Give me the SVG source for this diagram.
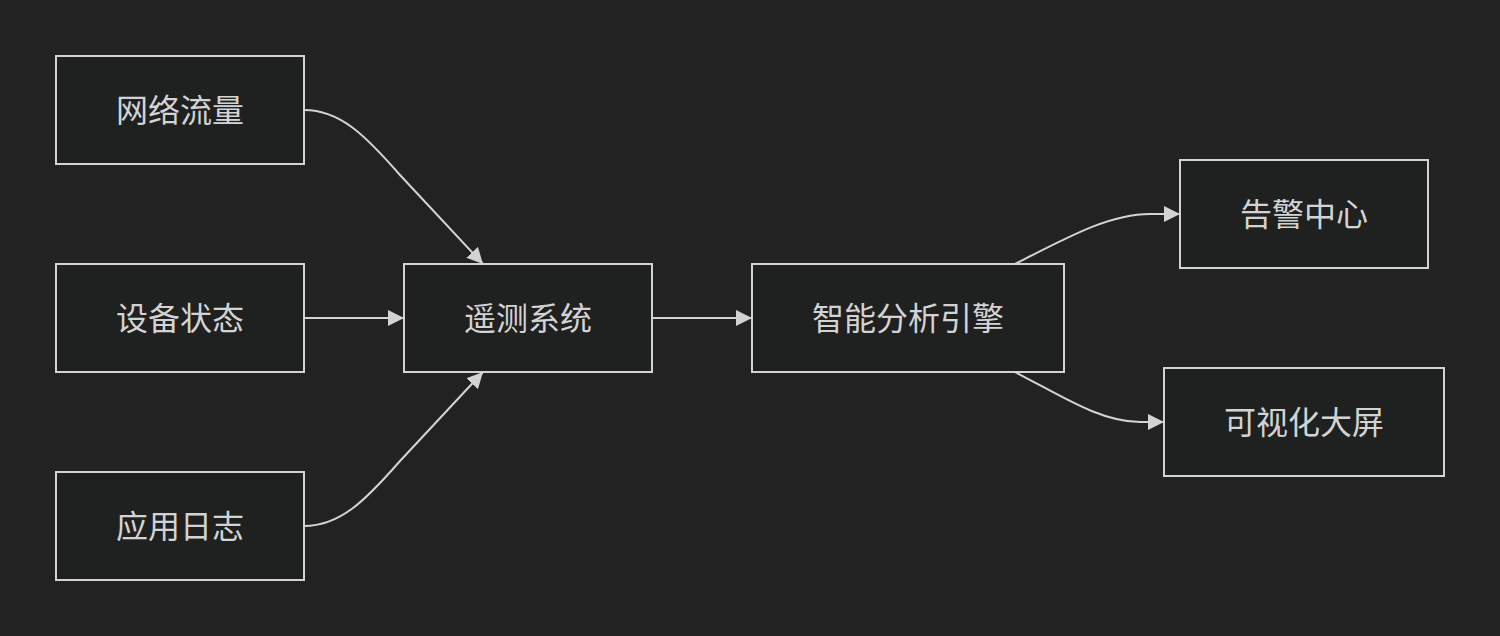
<svg xmlns="http://www.w3.org/2000/svg" width="1500" height="636" viewBox="0 0 1500 636">
<defs>
<style>
.node rect{fill:#1f2020;stroke:#d3d3d3;stroke-width:2}
.node text{fill:#d3d3d3;font-family:"Noto Sans CJK SC","Noto Sans",sans-serif;font-size:32px;text-anchor:middle;dominant-baseline:central}
.edge{fill:none;stroke:#d3d3d3;stroke-width:2;marker-end:url(#arr)}
</style>
<marker id="arr" viewBox="0 0 10 10" refX="10" refY="5" markerWidth="16" markerHeight="16" markerUnits="userSpaceOnUse" orient="auto">
<path d="M0,0 L10,5 L0,10 z" fill="#d3d3d3"/>
</marker>
</defs>
<rect width="1500" height="636" fill="#222222"/>
<g id="connectors">
<path class="edge" d="M304,110 C340,110 365,135 400,175 L483,264"/>
<path class="edge" d="M304,318 L404,318"/>
<path class="edge" d="M304,526 C340,526 365,501 400,461 L483,372"/>
<path class="edge" d="M652,318 L752,318"/>
<path class="edge" d="M1015,264 C1070,236 1110,214 1150,214 L1180,214"/>
<path class="edge" d="M1015,372 C1060,395 1100,422 1140,422 L1164,422"/>
</g>
<g id="n1" class="node"><rect x="56" y="56" width="248" height="108"/><text x="180" y="108">网络流量</text></g>
<g id="n2" class="node"><rect x="56" y="264" width="248" height="108"/><text x="180" y="316">设备状态</text></g>
<g id="n3" class="node"><rect x="56" y="472" width="248" height="108"/><text x="180" y="524">应用日志</text></g>
<g id="n4" class="node"><rect x="404" y="264" width="248" height="108"/><text x="528" y="316">遥测系统</text></g>
<g id="n5" class="node"><rect x="752" y="264" width="312" height="108"/><text x="908" y="316">智能分析引擎</text></g>
<g id="n6" class="node"><rect x="1180" y="160" width="248" height="108"/><text x="1304" y="212">告警中心</text></g>
<g id="n7" class="node"><rect x="1164" y="368" width="280" height="108"/><text x="1304" y="420">可视化大屏</text></g>
</svg>
